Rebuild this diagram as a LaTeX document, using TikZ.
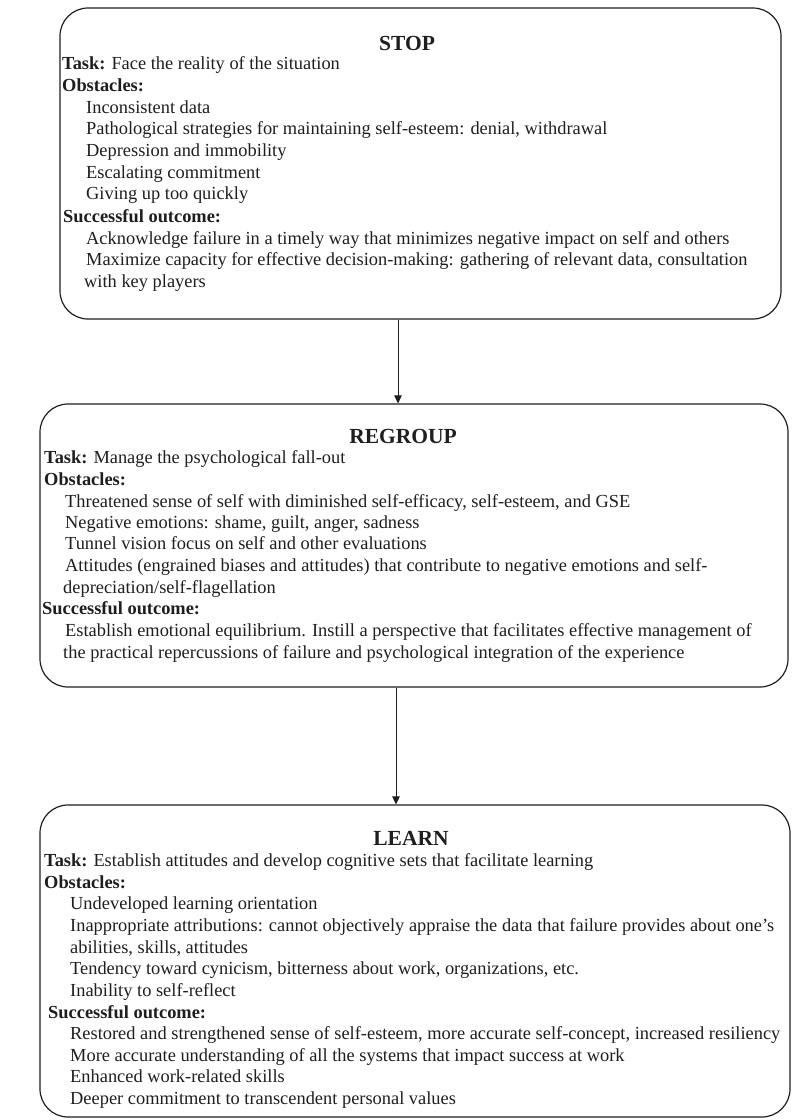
\documentclass[tikz,border=0pt]{standalone}
\usepackage{fontspec}
\setmainfont{Liberation Serif}
\usetikzlibrary{arrows.meta,positioning}
\definecolor{ink}{HTML}{1E1E1E}

\begin{document}
\begin{tikzpicture}[x=1pt,y=-1pt,>={Triangle[length=8pt,width=7.5pt]},
  box/.style={draw=ink,line width=1.2pt,rounded corners=28pt,inner sep=0pt},
  link/.style={->,draw=ink,line width=1pt},
  ttl/.style={anchor=base,font=\fontsize{21.5}{24}\selectfont\bfseries,text=ink,inner sep=0pt},
  txt/.style={anchor=base west,font=\fontsize{18.4}{21.6}\selectfont,text=ink,inner sep=0pt}]

  \useasboundingbox (0,0) rectangle (794,1120);

  % the three stages
  \node[box,minimum width=721pt,minimum height=311pt] (stop) at (420.5,163.5) {};
  \node[box,minimum width=748pt,minimum height=283pt] (regroup) at (414,545.5) {};
  \node[box,minimum width=750pt,minimum height=312pt] (learn) at (415,961) {};

  % STOP
  \node[ttl] (stopttl) at (407,50) {STOP};
  \node[txt] (s1) at (62,69) {\textbf{Task:}\hspace{6pt}Face the reality of the situation};
  \node[txt] (s2) at (62,91) {\textbf{Obstacles:}};
  \node[txt] (s3) at (86,113) {Inconsistent data};
  \node[txt] (s4) at (86,134) {Pathological strategies for maintaining self-esteem: denial, withdrawal};
  \node[txt] (s5) at (86,156) {Depression and immobility};
  \node[txt] (s6) at (86,178) {Escalating commitment};
  \node[txt] (s7) at (86,199) {Giving up too quickly};
  \node[txt] (s8) at (63,222) {\textbf{Successful outcome:}};
  \node[txt] (s9) at (86,244) {Acknowledge failure in a timely way that minimizes negative impact on self and others};
  \node[txt] (s10) at (86,265) {Maximize capacity for effective decision-making: gathering of relevant data, consultation};
  \node[txt] (s11) at (84,287) {with key players};

  % REGROUP
  \node[ttl] (regroupttl) at (403,443) {REGROUP};
  \node[txt] (r1) at (44,463) {\textbf{Task:}\hspace{6pt}Manage the psychological fall-out};
  \node[txt] (r2) at (44,485) {\textbf{Obstacles:}};
  \node[txt] (r3) at (65,507) {Threatened sense of self with diminished self-efficacy, self-esteem, and GSE};
  \node[txt] (r4) at (65,528) {Negative emotions: shame, guilt, anger, sadness};
  \node[txt] (r5) at (65,549) {Tunnel vision focus on self and other evaluations};
  \node[txt] (r6) at (65,571) {Attitudes (engrained biases and attitudes) that contribute to negative emotions and self-};
  \node[txt] (r7) at (63,593) {depreciation/self-flagellation};
  \node[txt] (r8) at (42,614) {\textbf{Successful outcome:}};
  \node[txt] (r9) at (65,636) {Establish emotional equilibrium. Instill a perspective that facilitates effective management of};
  \node[txt] (r10) at (63,658) {the practical repercussions of failure and psychological integration of the experience};

  % LEARN
  \node[ttl] (learnttl) at (411,845) {LEARN};
  \node[txt] (l1) at (44,866) {\textbf{Task:}\hspace{6pt}Establish attitudes and develop cognitive sets that facilitate learning};
  \node[txt] (l2) at (44,888) {\textbf{Obstacles:}};
  \node[txt] (l3) at (70,909) {Undeveloped learning orientation};
  \node[txt] (l4) at (70,931) {Inappropriate attributions: cannot objectively appraise the data that failure provides about one’s};
  \node[txt] (l5) at (70,953) {abilities, skills, attitudes};
  \node[txt] (l6) at (70,974) {Tendency toward cynicism, bitterness about work, organizations, etc.};
  \node[txt] (l7) at (70,996) {Inability to self-reflect};
  \node[txt] (l8) at (48,1018) {\textbf{Successful outcome:}};
  \node[txt] (l9) at (70,1039) {Restored and strengthened sense of self-esteem, more accurate self-concept, increased resiliency};
  \node[txt] (l10) at (70,1061) {More accurate understanding of all the systems that impact success at work};
  \node[txt] (l11) at (70,1082) {Enhanced work-related skills};
  \node[txt] (l12) at (70,1104) {Deeper commitment to transcendent personal values};

  % arrows between stages
  \coordinate (a1) at (398,0);
  \coordinate (a2) at (396,0);
  \path[link] (stop.south -| a1) -- (regroup.north -| a1);
  \path[link] (regroup.south -| a2) -- (learn.north -| a2);

\end{tikzpicture}
\end{document}
